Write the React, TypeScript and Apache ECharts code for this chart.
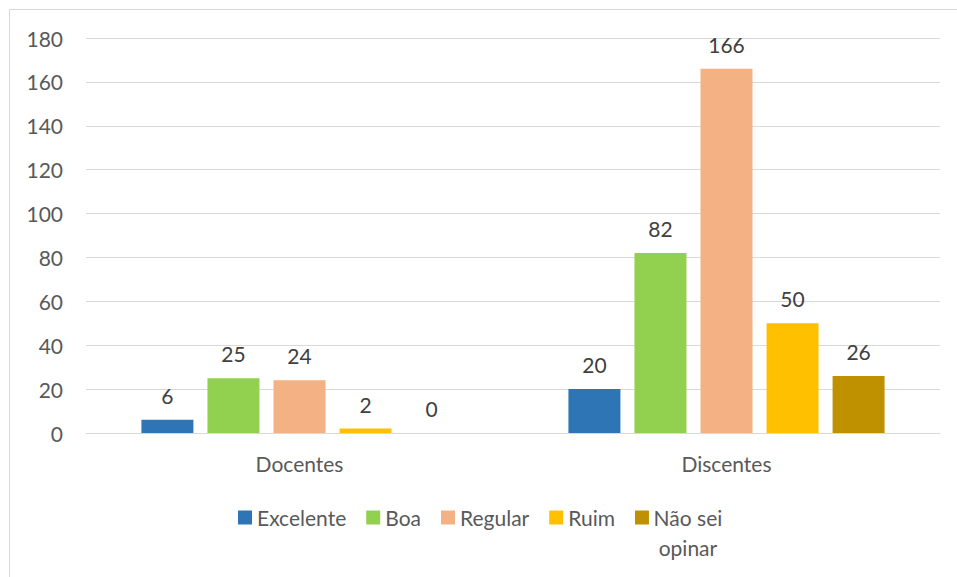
import React, { useEffect, useRef } from "react";
import * as echarts from "echarts";

const categories = ["Docentes", "Discentes"];
const seriesNames = ["Excelente", "Boa", "Regular", "Ruim", "Não sei opinar"];
const excelente = [6, 20];
const boa = [25, 82];
const regular = [24, 166];
const ruim = [2, 50];
const naoSei = [0, 26];
const colors = ["#2E75B6", "#92D050", "#F4B183", "#FFC000", "#BF9000"];
const yTicks = { min: 0, max: 180, interval: 20 };

const FONT = "Lato";

export default function App() {
  const ref = useRef<HTMLDivElement>(null);
  useEffect(() => {
    document.body.style.margin = "0";
    if (!ref.current) return;
    const chart = echarts.init(ref.current, undefined, { renderer: "svg" });
    const values = [excelente, boa, regular, ruim, naoSei];
    chart.setOption({
      animation: false,
      color: colors,
      graphic: [
        {
          type: "rect",
          shape: { x: 9.5, y: 9.5, width: 1000, height: 700 },
          style: { fill: "none", stroke: "#d9d9d9", lineWidth: 1 },
          silent: true,
        },
      ],
      grid: { left: 86, right: 17, top: 38, bottom: 144, containLabel: false },
      xAxis: {
        type: "category",
        data: categories,
        axisLine: { show: true, lineStyle: { color: "#d9d9d9" } },
        axisTick: { show: false },
        axisLabel: { color: "#595959", fontSize: 21, fontFamily: FONT, margin: 20 },
      },
      yAxis: {
        type: "value",
        min: yTicks.min,
        max: yTicks.max,
        interval: yTicks.interval,
        axisLine: { show: false },
        axisTick: { show: false },
        axisLabel: { color: "#595959", fontSize: 21, fontFamily: FONT, margin: 23 },
        splitLine: { lineStyle: { color: "#d9d9d9", width: 1 } },
      },
      legend: {
        left: 233,
        top: 502,
        itemWidth: 14,
        itemHeight: 14,
        itemGap: 20,
        icon: "rect",
        textStyle: { color: "#595959", fontSize: 21, fontFamily: FONT },
        data: seriesNames.map((n, i) =>
          i === 4
            ? {
                name: n,
                textStyle: {
                  padding: [30, 0, 0, 0],
                  rich: {
                    a: { width: 68, align: "center", fontSize: 21, fontFamily: FONT, color: "#595959", lineHeight: 30 },
                  },
                },
              }
            : { name: n }
        ),
        formatter: (name: string) =>
          name === "Não sei opinar" ? "{a|Não sei}\n{a|opinar}" : name,
      },
      series: seriesNames.map((n, i) => ({
        name: n,
        type: "bar",
        data: values[i],
        barWidth: 52,
        barGap: "27%",
        itemStyle: { color: colors[i] },
        label: {
          show: true,
          position: "top",
          distance: 14,
          color: "#404040",
          fontSize: 21,
          fontFamily: FONT,
        },
      })),
    });
    return () => chart.dispose();
  }, []);
  return <div ref={ref} style={{ width: 957, height: 577 }} />;
}
